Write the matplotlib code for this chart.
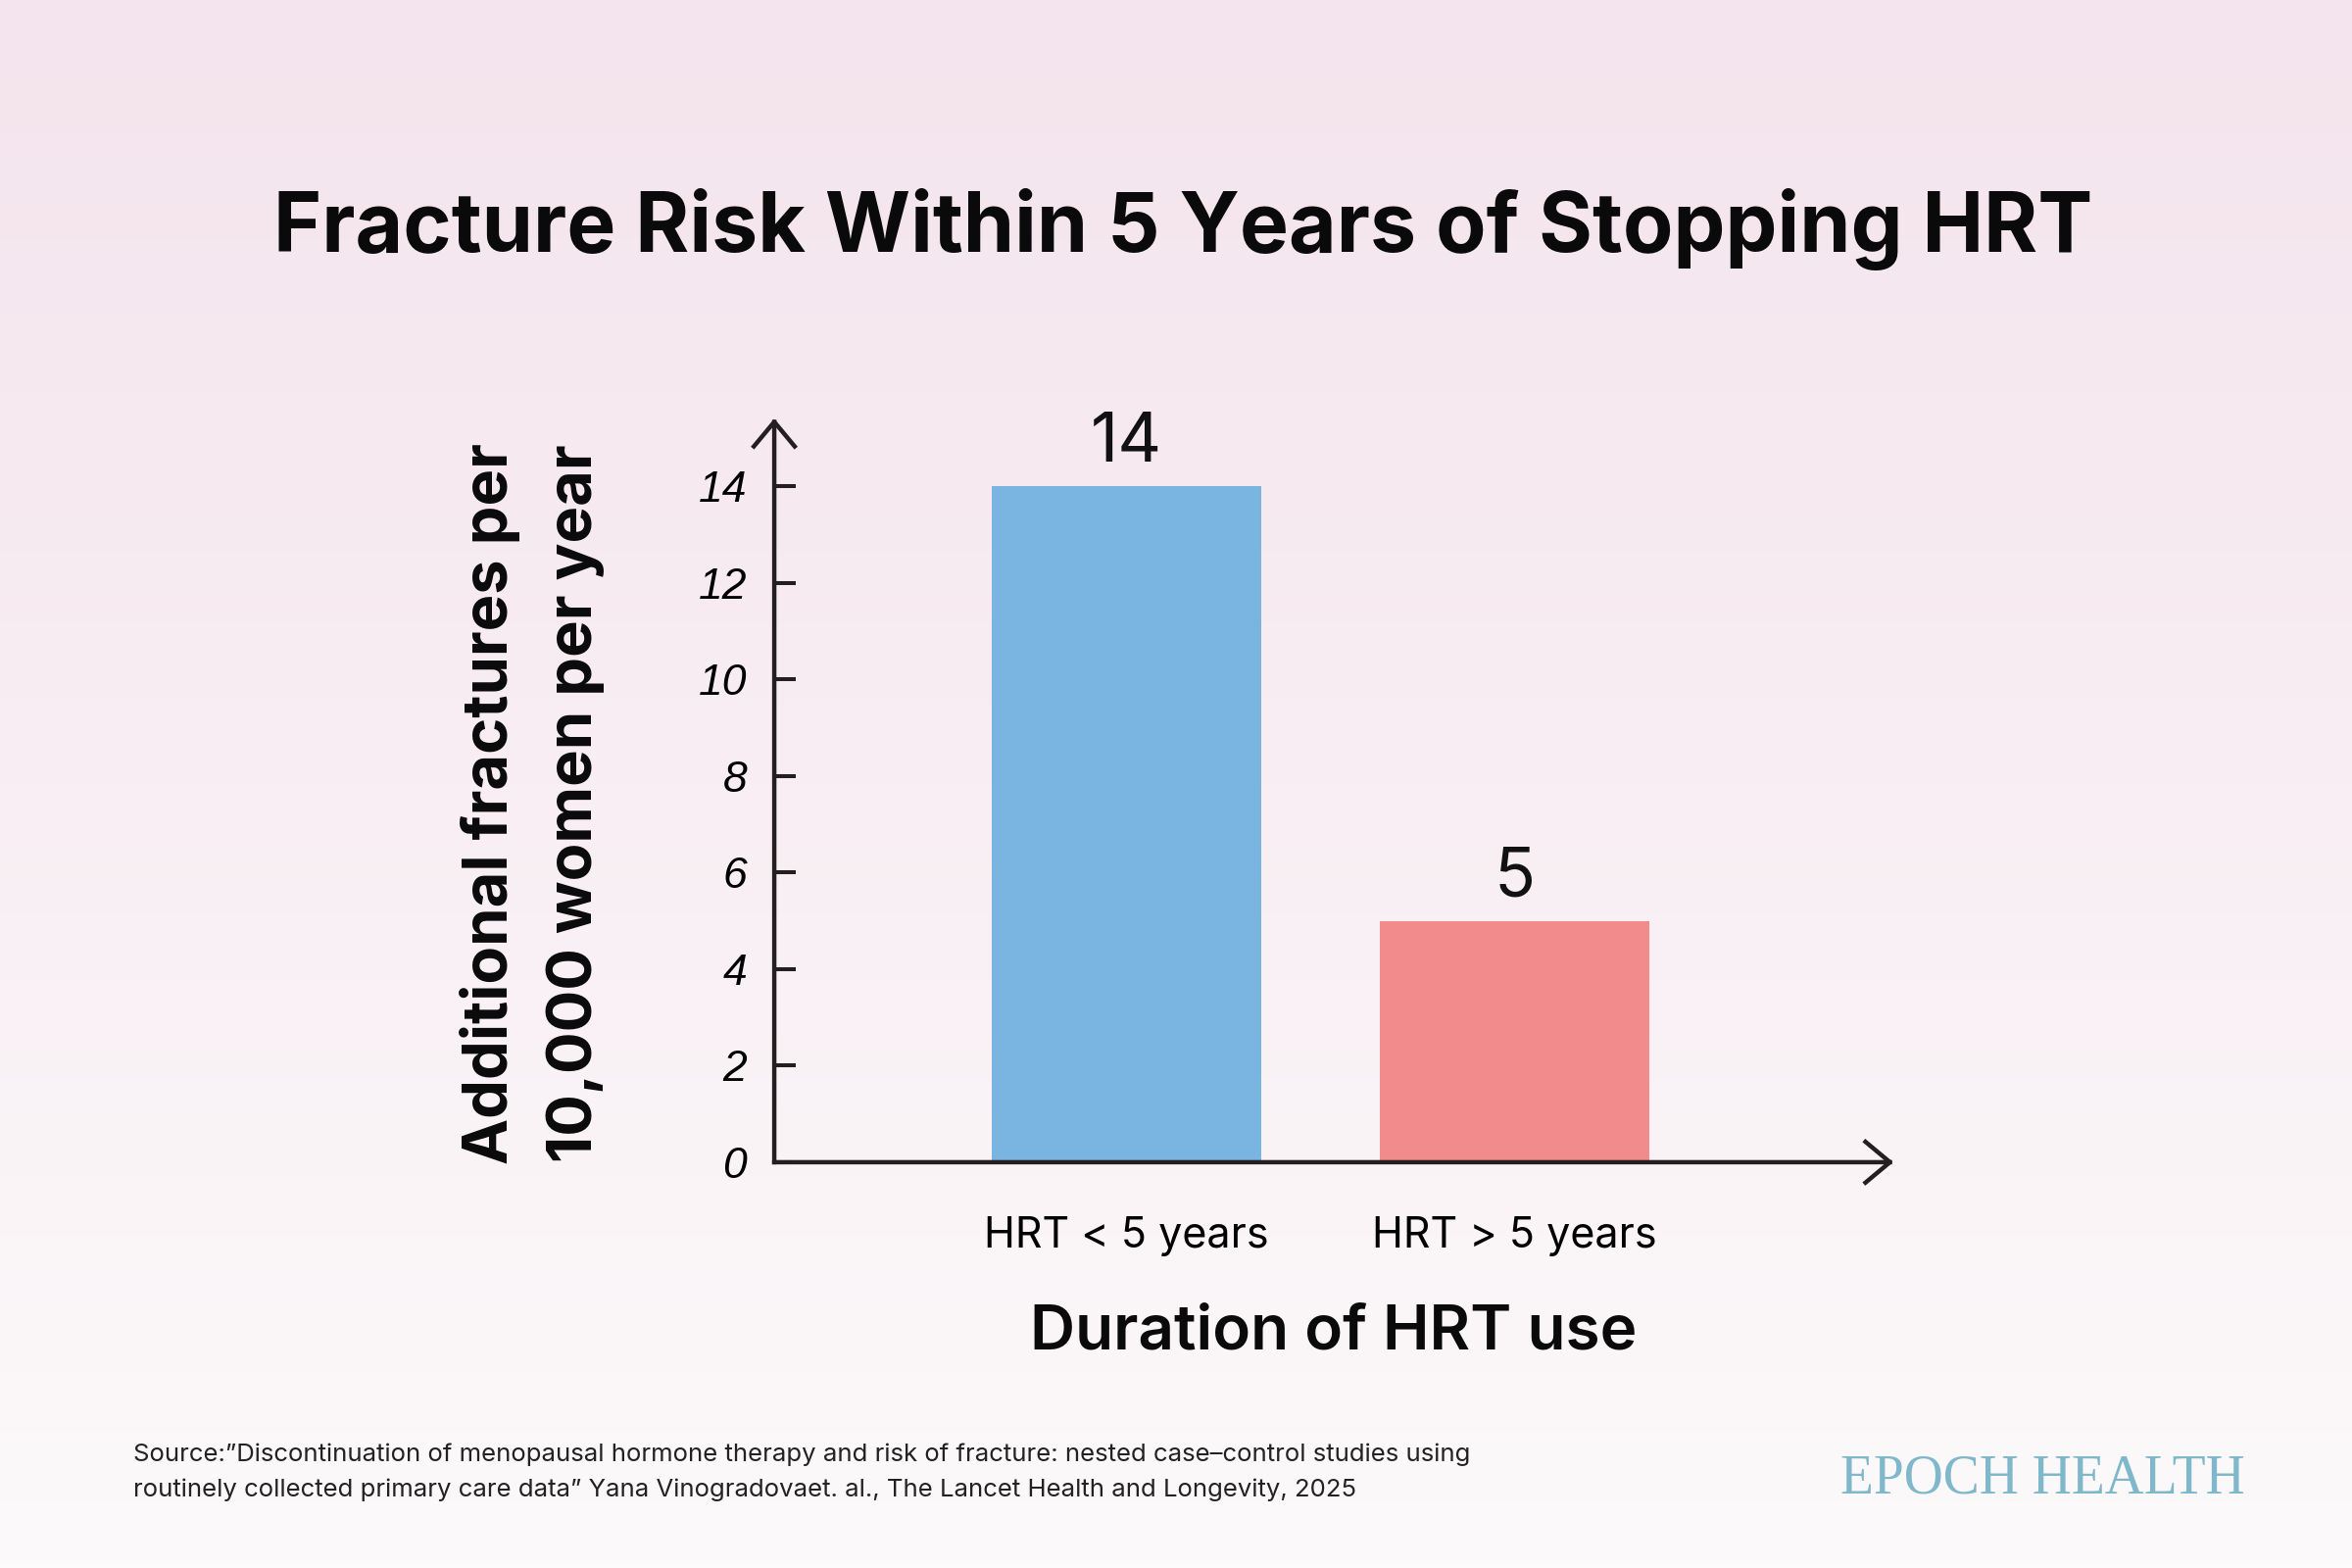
import numpy as np
import matplotlib
matplotlib.use("Agg")
import matplotlib.pyplot as plt
from matplotlib.colors import LinearSegmentedColormap

# ---- data ----
categories = ["HRT < 5 years", "HRT > 5 years"]
values = [14, 5]
bar_colors = ["#7ab5e2", "#f28c8c"]
y_ticks = [0, 2, 4, 6, 8, 10, 12, 14]
title = "Fracture Risk Within 5 Years of Stopping HRT"
y_label = "Additional fractures per\n10,000 women per year"
x_label = "Duration of HRT use"
source = ("Source:\u201dDiscontinuation of menopausal hormone therapy and risk of fracture: nested case\u2013control studies using\n"
          "routinely collected primary care data\u201d Yana Vinogradovaet. al., The Lancet Health and Longevity, 2025")
brand = "EPOCH HEALTH"

DPI = 100
fig = plt.figure(figsize=(24, 16), dpi=DPI)

# background gradient
bg = fig.add_axes([0, 0, 1, 1], zorder=-10)
cmap = LinearSegmentedColormap.from_list("bg", ["#f4e4ed", "#f8eef3", "#fcfafb"])
grad = np.linspace(0, 1, 256).reshape(-1, 1)
bg.imshow(grad, aspect="auto", cmap=cmap, extent=[0, 1, 0, 1], origin="upper")
bg.set_axis_off()

ax = fig.add_axes([0.3292, 0.2588, 0.805 - 0.3292, 0.7331 - 0.2588])
ax.patch.set_alpha(0)
x = np.arange(len(categories))
ax.bar(x, values, width=0.694, color=bar_colors, zorder=2)
xmin, xmax = -0.907, 1.977
ymax = 15.4
ax.set_xlim(xmin, xmax)
ax.set_ylim(0, ymax)
for s in ax.spines.values():
    s.set_visible(False)

axis_color = "#231f20"
arrow_kw = dict(arrowstyle="->,head_length=1.8,head_width=1.5", lw=3.2, color=axis_color,
                mutation_scale=10, shrinkA=0, shrinkB=0, capstyle="projecting")
ax.annotate("", xy=(xmin, ymax), xytext=(xmin, 0), arrowprops=arrow_kw,
            annotation_clip=False, zorder=5)
ax.annotate("", xy=(xmax, 0), xytext=(xmin, 0), arrowprops=arrow_kw,
            annotation_clip=False, zorder=5)

ax.set_yticks(y_ticks)
ax.set_yticklabels([str(t) for t in y_ticks], fontsize=32, style="italic",
                   family="Liberation Sans")
ax.tick_params(axis="y", direction="in", length=16, width=2.9, color=axis_color, pad=20)
ax.set_xticks(x)
ax.set_xticklabels(categories, fontsize=31, family="Inter")
ax.tick_params(axis="x", length=0, pad=40)

for xi, v in zip(x, values):
    ax.text(xi, v + 0.22, str(v), ha="center", va="bottom", fontsize=50, family="Inter",
            color="#111111")

fig.text(0.503, 1 - 234 / 1600, title, ha="center", va="center", fontsize=60.5,
         fontweight="bold", family="Inter", color="#0a0a0a")
fig.text(1361 / 2400, 1 - 1360 / 1600, x_label, ha="center", va="center", fontsize=46,
         fontweight="semibold", family="Inter", color="#0a0a0a")
fig.text(543 / 2400, 1 - 820 / 1600, y_label, ha="center", va="center", rotation=90,
         fontsize=45.5, fontweight="bold", family="Inter", color="#0a0a0a",
         linespacing=1.55, multialignment="center")
fig.text(136 / 2400, 1 - 1502 / 1600, source, ha="left", va="center", fontsize=18.5,
         family="Inter", color="#222222", linespacing=1.65)
fig.text(2084 / 2400, 1 - 1509 / 1600, brand, ha="center", va="center", fontsize=40,
         family="Liberation Serif", color="#7fb7cb")

fig.savefig("out.png", dpi=DPI)
